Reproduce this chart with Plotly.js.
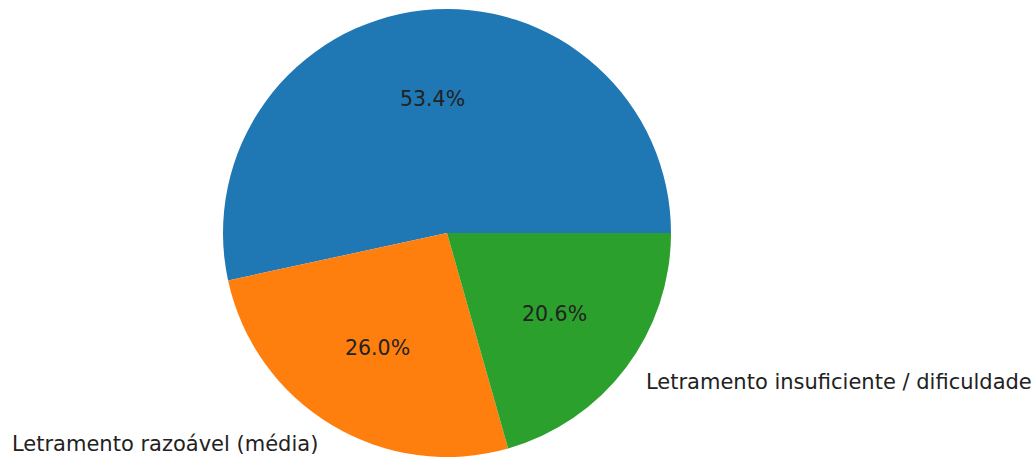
<!DOCTYPE html>
<html>
<head>
<meta charset="utf-8">
<script src="https://cdn.plot.ly/plotly-3.0.1.min.js"></script>
<style>html,body{margin:0;padding:0;background:#fff;}#chart{width:1034px;height:460px;}</style>
</head>
<body>
<div id="chart"></div>
<script>
// Data
const categories = ["", "Letramento razoável (média)", "Letramento insuficiente / dificuldade"];
const values = [53.4, 26.0, 20.6];
const percentLabels = ["53.4%", "26.0%", "20.6%"];
const colors = ["#1f77b4", "#ff7f0e", "#2ca02c"];

// Geometry (pixels)
const W = 1034, H = 460;
const cxPx = 447, cyPx = 233, rPx = 224;

const dom = {
  x: [(cxPx - rPx) / W, (cxPx + rPx) / W],
  y: [1 - (cyPx + rPx) / H, 1 - (cyPx - rPx) / H]
};

const total = values.reduce((a, b) => a + b, 0);
const annotations = [];
let cum = 0;
values.forEach((v, i) => {
  const a0 = cum / total * 360;
  cum += v;
  const a1 = cum / total * 360;
  const mid = (a0 + a1) / 2 * Math.PI / 180;
  const cs = Math.cos(mid), sn = Math.sin(mid);
  // percentage at 0.6 r
  annotations.push({
    x: (cxPx + 0.6 * rPx * cs) / W, y: 1 - (cyPx - 0.6 * rPx * sn) / H,
    xref: "paper", yref: "paper", text: percentLabels[i], showarrow: false,
    xanchor: "center", yanchor: "middle",
    font: {family: "DejaVu Sans", size: 20.5, color: "#222"}
  });
  if (categories[i]) {
    annotations.push({
      x: (cxPx + 1.1 * rPx * cs) / W, y: 1 - (cyPx - 1.1 * rPx * sn) / H,
      xref: "paper", yref: "paper", text: categories[i], showarrow: false,
      xanchor: cs > 0 ? "left" : "right", yanchor: "middle",
      font: {family: "DejaVu Sans", size: 21, color: "#222"}
    });
  }
});

// First slice starts at 3 o'clock and runs counterclockwise (matplotlib style)
const rotation = 90 - 360 * values[0] / total;

const trace = {
  type: "pie",
  values: values,
  labels: ["a", "b", "c"],
  sort: false,
  direction: "counterclockwise",
  rotation: rotation,
  textinfo: "none",
  hoverinfo: "none",
  marker: {colors: colors, line: {width: 0}},
  domain: dom,
  showlegend: false
};

const layout = {
  width: W, height: H,
  margin: {l: 0, r: 0, t: 0, b: 0},
  paper_bgcolor: "#fff",
  plot_bgcolor: "#fff",
  showlegend: false,
  annotations: annotations
};

Plotly.newPlot("chart", [trace], layout, {displayModeBar: false, staticPlot: true});
</script>
</body>
</html>
